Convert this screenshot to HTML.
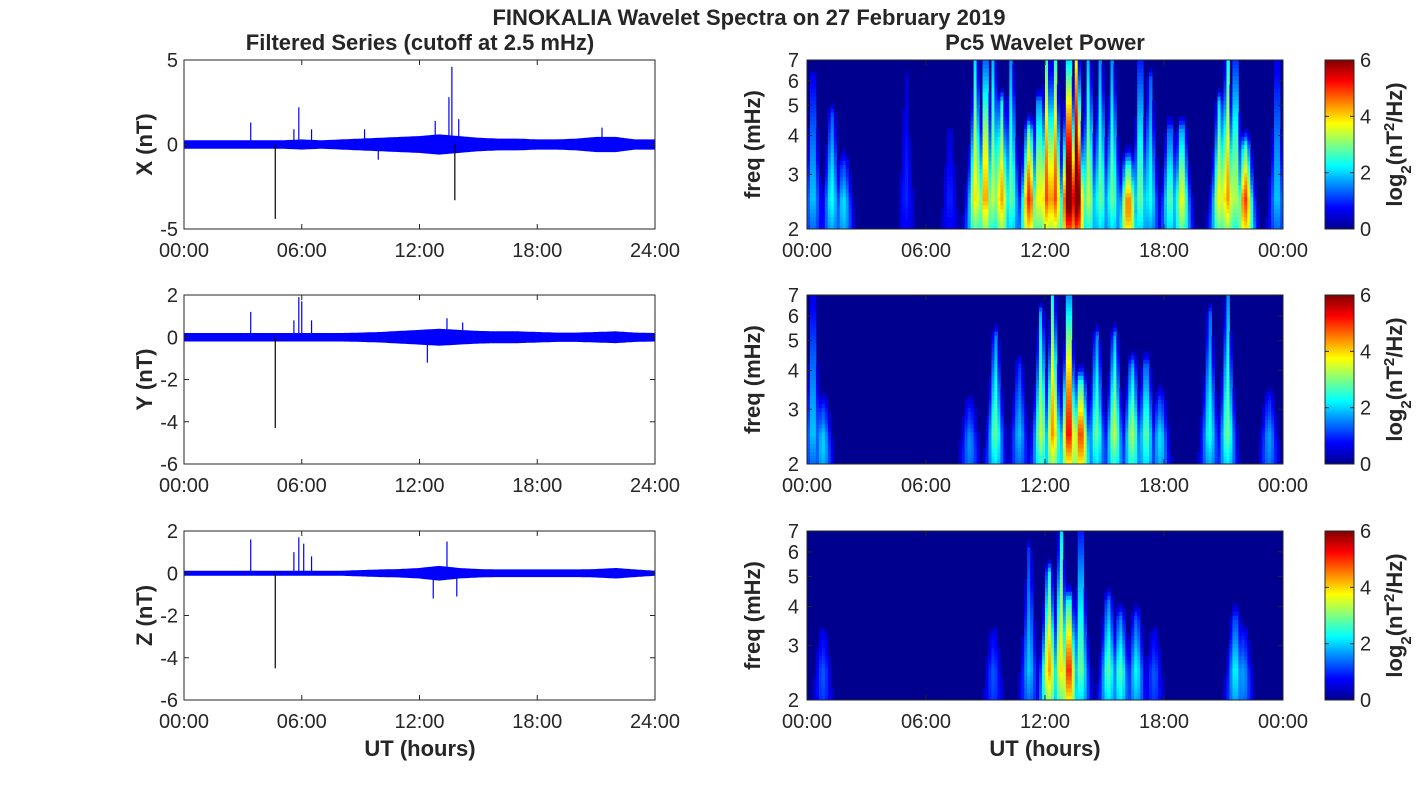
<!DOCTYPE html>
<html><head><meta charset="utf-8"><style>
html,body{margin:0;padding:0;background:#fff;}
svg{display:block;font-family:"Liberation Sans","DejaVu Sans",sans-serif;}
.tk{font-size:20px;fill:#262626;}
.lb{font-size:22px;font-weight:bold;fill:#262626;}
</style></head><body>
<svg id="fig" width="1418" height="788" viewBox="0 0 1418 788">
<defs>
<linearGradient id="jet" x1="0" y1="1" x2="0" y2="0">
<stop offset="0" stop-color="#00008f"/><stop offset="0.125" stop-color="#0000ff"/>
<stop offset="0.375" stop-color="#00ffff"/><stop offset="0.625" stop-color="#ffff00"/>
<stop offset="0.875" stop-color="#ff0000"/><stop offset="1" stop-color="#800000"/>
</linearGradient>
</defs>
<text x="749" y="25" text-anchor="middle" class="lb">FINOKALIA Wavelet Spectra on 27 February 2019</text>
<text x="420" y="50" text-anchor="middle" class="lb">Filtered Series (cutoff at 2.5 mHz)</text>
<text x="1045" y="50" text-anchor="middle" class="lb">Pc5 Wavelet Power</text>
<g id="root"></g>
</svg>
<script>
// ---- time series data (amplitude envelope per hour, spikes) ----
const hours = [0,1,2,3,4,5,6,7,8,9,10,11,12,13,14,15,16,17,18,19,20,21,22,23,24];
const ampX = [0.25,0.25,0.25,0.25,0.25,0.25,0.3,0.25,0.3,0.35,0.4,0.45,0.5,0.6,0.5,0.4,0.35,0.35,0.3,0.3,0.35,0.45,0.45,0.3,0.3];
const ampY = [0.2,0.2,0.2,0.2,0.2,0.2,0.2,0.2,0.2,0.22,0.25,0.3,0.35,0.4,0.35,0.3,0.28,0.28,0.25,0.22,0.22,0.25,0.28,0.22,0.2];
const ampZ = [0.12,0.12,0.12,0.12,0.12,0.12,0.12,0.12,0.12,0.15,0.18,0.2,0.25,0.35,0.25,0.2,0.18,0.18,0.18,0.18,0.18,0.2,0.25,0.18,0.12];
const spikeTX = [3.4,4.65,5.6,5.85,6.5,9.2,9.9,12.8,13.5,13.65,13.8,14.0,21.3];
const spikeVX = [1.3,-4.4,0.9,2.2,0.9,0.9,-0.9,1.4,2.8,4.6,-3.3,1.5,1.0];
const spikeTY = [3.4,4.65,5.6,5.85,6.0,6.5,12.4,13.4,14.2];
const spikeVY = [1.2,-4.3,0.8,1.9,1.7,0.8,-1.2,0.9,0.7];
const spikeTZ = [3.4,4.65,5.6,5.85,6.1,6.5,12.7,13.4,13.9];
const spikeVZ = [1.6,-4.5,1.0,1.7,1.4,0.8,-1.2,1.5,-1.1];
// ---- wavelet blobs (hour, log2 power, upper freq mHz) ----
const bT1 = [0.3,1.25,1.85,5.0,7.2,8.5,9.0,9.4,9.8,10.3,11.2,11.7,12.1,12.5,13.2,13.6,14.2,14.8,15.4,16.2,16.8,17.3,18.3,18.9,20.8,21.2,21.6,22.1,23.7];
const bP1 = [2,2.5,2.5,1,1,4,4.5,3.5,4.5,3,5.5,4,5,5,7,7,3.5,3,3,5.5,3,2.5,3,4,4,4.5,3.5,5.5,2];
const bF1 = [6,4.5,3,6,4,7,7,7,5,7,4,5,7,7,7,7,7,7,7,3,7,6,4,4,5,7,7,3.5,7];
const bT2 = [0.3,0.8,8.2,9.5,10.7,11.8,12.4,13.2,13.8,14.6,15.5,16.4,17.1,17.8,20.3,21.2,23.3];
const bP2 = [2,2.5,2,3,2,3.5,4.5,5.5,5.5,3,3.5,3.5,3,2.5,2.5,3,2];
const bF2 = [7,2.8,2.8,5,4,6,7,7,3.5,5,5,4,4,3,6,7,3];
const bT3 = [0.8,9.4,11.2,12.2,12.8,13.2,13.8,15.2,15.8,16.6,17.5,21.6,22.0];
const bP3 = [1.5,1.5,2,4.5,4,5.5,3,3,3,2.5,1.5,2.5,2];
const bF3 = [3,3,6,5,7,4,7,4,3.5,3.5,3,3.5,3];
const xTicksL = ["00:00","06:00","12:00","18:00","24:00"];
const xTicksR = ["00:00","06:00","12:00","18:00","00:00"];
const fTicks = [2,3,4,5,6,7];
const cbTicks = [0,2,4,6];

const NS="http://www.w3.org/2000/svg";
const root=document.getElementById('root');
function mk(tag,attrs,parent){const e=document.createElementNS(NS,tag);for(const k in attrs)e.setAttribute(k,attrs[k]);(parent||root).appendChild(e);return e;}
const tops=[60,295,531], H=169;
const LX0=184,LX1=655,RX0=807,RX1=1283;
function interp(arr,t){const i=Math.min(23,Math.floor(t));const f=t-i;return arr[i]*(1-f)+arr[i+1]*f;}

const series=[
 {name:'x',lab:'X (nT)',amp:ampX,st:spikeTX,sv:spikeVX,ymin:-5,ymax:5,ticks:[-5,0,5]},
 {name:'y',lab:'Y (nT)',amp:ampY,st:spikeTY,sv:spikeVY,ymin:-6,ymax:2,ticks:[-6,-4,-2,0,2]},
 {name:'z',lab:'Z (nT)',amp:ampZ,st:spikeTZ,sv:spikeVZ,ymin:-6,ymax:2,ticks:[-6,-4,-2,0,2]}];
const blobs=[[bT1,bP1,bF1],[bT2,bP2,bF2],[bT3,bP3,bF3]];

function jet(x){x=Math.max(0,Math.min(1,x));
 const c=v=>Math.round(255*Math.max(0,Math.min(1,v)));
 let r=1.5-Math.abs(4*x-3),g=1.5-Math.abs(4*x-2),b=1.5-Math.abs(4*x-1);
 if(x<0.125)b=0.56+x*3.5; if(x>0.875)r=1-(x-0.875)*4;
 return `rgb(${c(r)},${c(g)},${c(b)})`;}

series.forEach((s,k)=>{
 const top=tops[k];
 const g=mk('g',{});
 
 
 const xs=t=>LX0+(t/24)*(LX1-LX0);
 const ys=v=>top+H-(v-s.ymin)/(s.ymax-s.ymin)*H;
 mk('rect',{x:LX0,y:top,width:LX1-LX0,height:H,fill:'#fff'},g);
 let up=[],dn=[];
 for(let t=0;t<=24.001;t+=0.1){const a=interp(s.amp,Math.min(t,23.999));up.push(xs(t).toFixed(1)+','+ys(a).toFixed(1));dn.unshift(xs(t).toFixed(1)+','+ys(-a).toFixed(1));}
 const band=mk('polygon',{points:up.concat(dn).join(' '),fill:'#0000ff'},g);
 
 
 s.st.forEach((t,i)=>{
  const v=s.sv[i];
  const l=mk('line',{x1:xs(t),x2:xs(t),y1:ys(0),y2:ys(v),stroke:v<-3?'#000':'#0000ff','stroke-width':1.2},g);
  
  
 });
 mk('rect',{x:LX0,y:top,width:LX1-LX0,height:H,fill:'none',stroke:'#262626','stroke-width':1},g);
 s.ticks.forEach(v=>{
  mk('line',{x1:LX0,x2:LX0+5,y1:ys(v),y2:ys(v),stroke:'#262626'},g);
  mk('line',{x1:LX1,x2:LX1-5,y1:ys(v),y2:ys(v),stroke:'#262626'},g);
  const tx=mk('text',{x:LX0-6,y:ys(v)+7,'text-anchor':'end',class:'tk'},g);tx.textContent=v;
  
  
 });
 xTicksL.forEach((lb,i)=>{const x=xs(i*6);
  mk('line',{x1:x,x2:x,y1:top+H,y2:top+H-5,stroke:'#262626'},g);
  mk('line',{x1:x,x2:x,y1:top,y2:top+5,stroke:'#262626'},g);
  const tx=mk('text',{x:x,y:top+H+28,'text-anchor':'middle',class:'tk'},g);tx.textContent=lb;
  
  
 });
 const yl=mk('text',{x:0,y:0,transform:`translate(152,${top+H/2}) rotate(-90)`,'text-anchor':'middle',class:'lb'},g);yl.textContent=s.lab;
 
 

 // ---- wavelet panel ----
 const w=mk('g',{});
 
 
 const [bT,bP,bF]=blobs[k];
 const fy=f=>top+H-Math.log(f/2)/Math.log(3.5)*H;
 const txr=t=>RX0+t/24*(RX1-RX0);
 mk('rect',{x:RX0,y:top,width:RX1-RX0,height:H,fill:'#00008f'},w);
 const NT=160,NF=42;
 for(let j=0;j<NF;j++){
  const f=2*Math.pow(3.5,(j+0.5)/NF);
  for(let i=0;i<NT;i++){
   const t=(i+0.5)/NT*24;
   let v=0;
   for(let b=0;b<bT.length;b++){
    const ww=0.38*Math.pow(2.4/f,1.3);
    const dt=(t-bT[b])/ww;
    const lr=Math.log(f/2)/Math.log(bF[b]/2);
    const vf=lr<=1?Math.exp(-0.6*lr*lr):Math.exp(-0.6)*Math.exp(-Math.pow((f-bF[b])/0.5,2));
    const lowfade=0.7+0.3*Math.min(1,(f-2)/0.5);
    const c=bP[b]*Math.exp(-dt*dt)*vf*lowfade;
    if(c>v)v=c;
   }
   if(v<0.35)continue;
   const cell=mk('rect',{x:(RX0+i/NT*(RX1-RX0)).toFixed(2),y:(top+H-(j+1)/NF*H).toFixed(2),width:((RX1-RX0)/NT+0.4).toFixed(2),height:(H/NF+0.4).toFixed(2),fill:jet(v/6)},w);
   
   
  }
 }
 mk('rect',{x:RX0,y:top,width:RX1-RX0,height:H,fill:'none',stroke:'#262626'},w);
 fTicks.forEach(f=>{
  mk('line',{x1:RX0,x2:RX0+5,y1:fy(f),y2:fy(f),stroke:'#262626'},w);
  mk('line',{x1:RX1,x2:RX1-5,y1:fy(f),y2:fy(f),stroke:'#262626'},w);
  const tx=mk('text',{x:RX0-8,y:fy(f)+7,'text-anchor':'end',class:'tk'},w);tx.textContent=f;
  
  
 });
 xTicksR.forEach((lb,i)=>{const x=txr(i*6);
  mk('line',{x1:x,x2:x,y1:top+H,y2:top+H-5,stroke:'#262626'},w);
  mk('line',{x1:x,x2:x,y1:top,y2:top+5,stroke:'#262626'},w);
  const tx=mk('text',{x:x,y:top+H+28,'text-anchor':'middle',class:'tk'},w);tx.textContent=lb;
  
  
 });
 const fl=mk('text',{x:0,y:0,transform:`translate(760,${top+H/2}) rotate(-90)`,'text-anchor':'middle',class:'lb'},w);fl.textContent='freq (mHz)';
 
 
 const cb=mk('rect',{x:1325,y:top,width:29,height:H,fill:'url(#jet)',stroke:'#262626'},w);
 
 
 cbTicks.forEach(v=>{const y=top+H-v/6*H;
  mk('line',{x1:1325,x2:1329,y1:y,y2:y,stroke:'#262626'},w);
  mk('line',{x1:1354,x2:1350,y1:y,y2:y,stroke:'#262626'},w);
  const tx=mk('text',{x:1360,y:y+7,class:'tk'},w);tx.textContent=v;
  
  
 });
 const cl=mk('text',{x:0,y:0,transform:`translate(1402,${top+H/2}) rotate(-90)`,'text-anchor':'middle',class:'lb'},w);
 cl.innerHTML='log<tspan baseline-shift="sub" font-size="15">2</tspan>(nT<tspan baseline-shift="super" font-size="15">2</tspan>/Hz)';
 
 
});
const u1=mk('text',{x:420,y:756,'text-anchor':'middle',class:'lb'});u1.textContent='UT (hours)';


const u2=mk('text',{x:1045,y:756,'text-anchor':'middle',class:'lb'});u2.textContent='UT (hours)';


</script>
</body></html>
